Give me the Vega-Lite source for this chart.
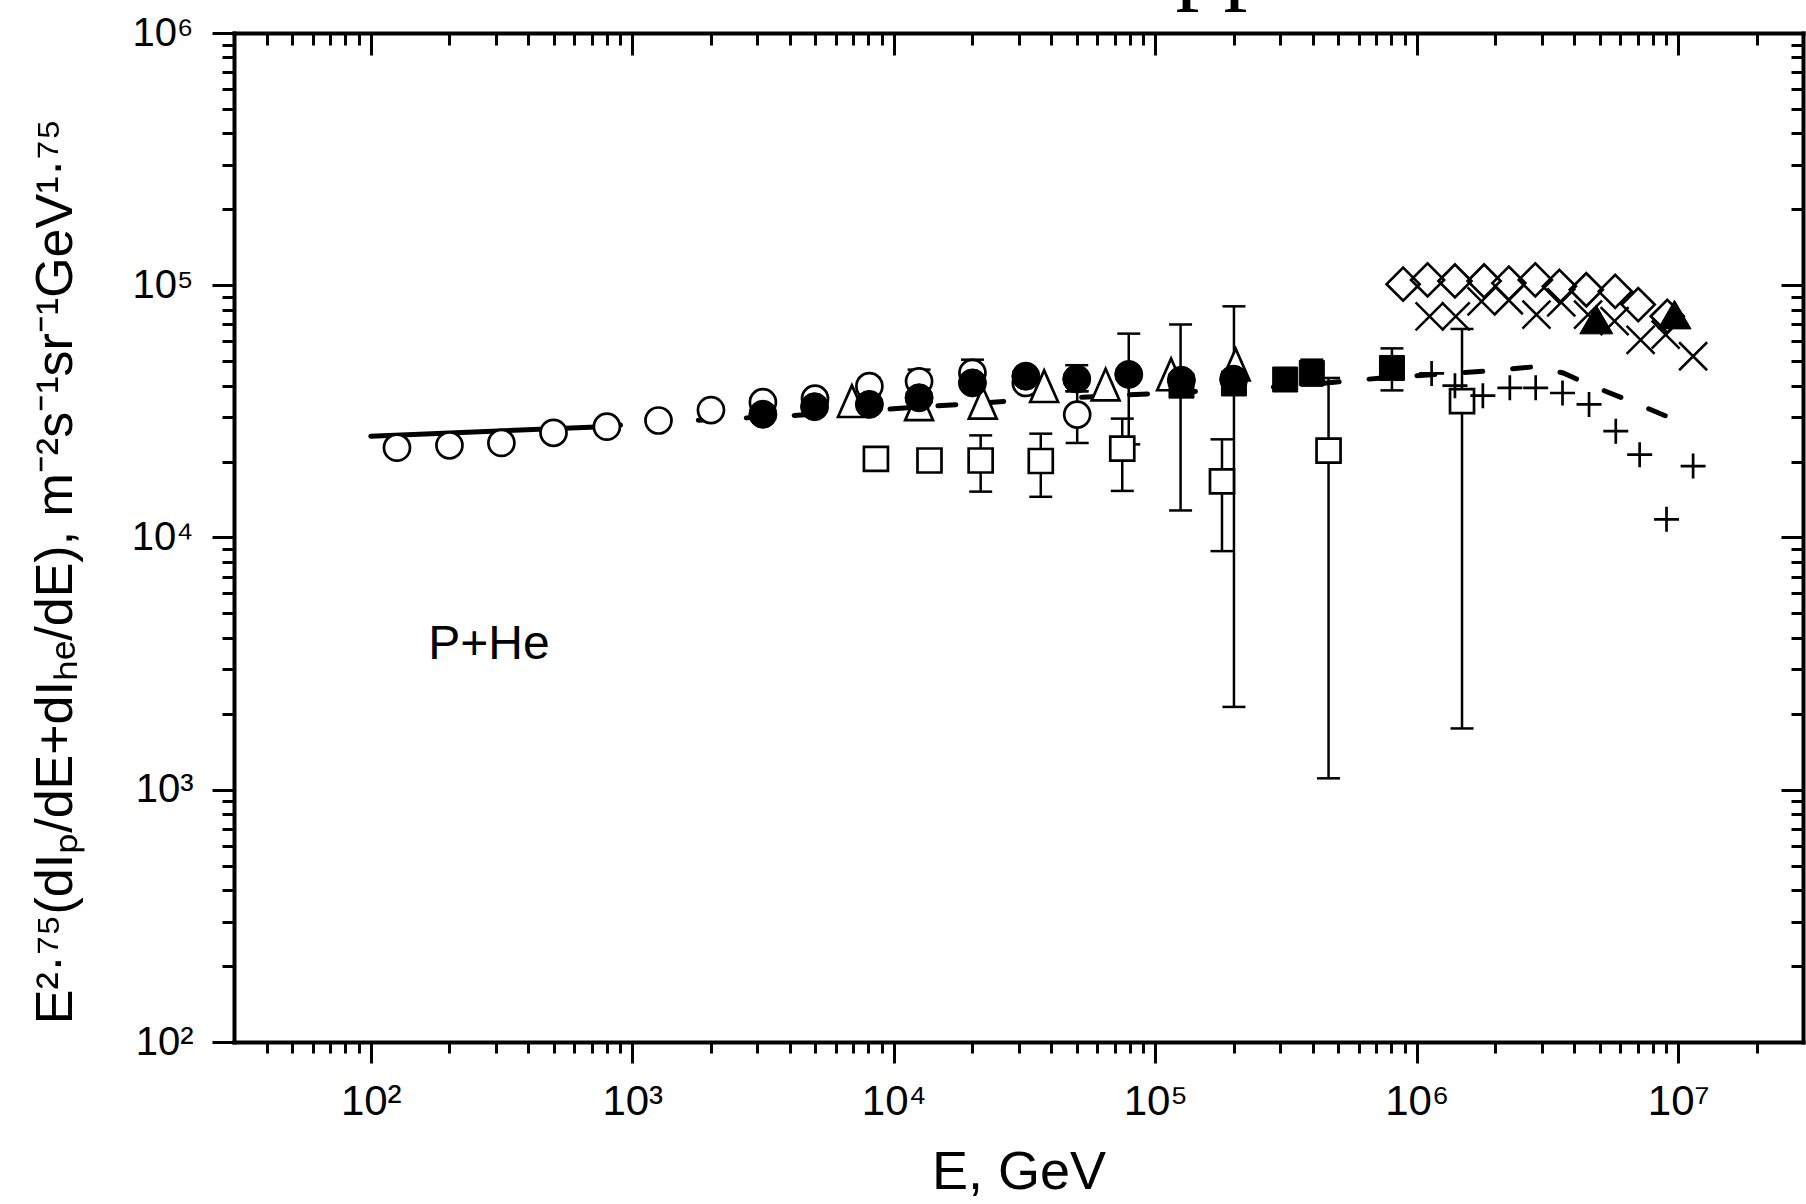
{
  "$schema": "https://vega.github.io/schema/vega-lite/v6.json",
  "width": 1569,
  "height": 1009,
  "autosize": {"type": "none"},
  "padding": {"left": 234, "top": 33, "right": 3, "bottom": 162},
  "background": "white",
  "config": {
    "view": {"stroke": null},
    "axis": {
      "grid": false,
      "domainColor": "black",
      "domainWidth": 4,
      "domainCap": "square",
      "tickColor": "black",
      "tickWidth": 3,
      "labelColor": "black",
      "titleColor": "black",
      "labelFont": "Liberation Sans",
      "titleFont": "Liberation Sans",
      "titleFontWeight": "normal"
    }
  },
  "datasets": {
    "solid": [{"E": 100, "V": 25200}, {"E": 770, "V": 27500}],
    "dashed": [
      {"E": 770, "V": 27500}, {"E": 1186, "V": 28600}, {"E": 3820, "V": 30300},
      {"E": 29700, "V": 34900}, {"E": 172600, "V": 38300}, {"E": 348000, "V": 40000},
      {"E": 735000, "V": 42900}, {"E": 1810000, "V": 45600}, {"E": 2810000, "V": 47500},
      {"E": 3630000, "V": 44900}, {"E": 4450000, "V": 40800}, {"E": 7030000, "V": 33700},
      {"E": 10000000, "V": 28900}
    ],
    "err": [
      {"E": 8070, "lo": 36700, "hi": 42900},
      {"E": 12500, "lo": 37400, "hi": 46300},
      {"E": 20000, "lo": 39800, "hi": 50700},
      {"E": 50300, "lo": 23700, "hi": 38000},
      {"E": 50100, "lo": 38000, "hi": 48200},
      {"E": 79200, "lo": 23400, "hi": 64300},
      {"E": 21500, "lo": 15200, "hi": 25400},
      {"E": 36500, "lo": 14500, "hi": 25800},
      {"E": 74800, "lo": 15300, "hi": 29600},
      {"E": 180000, "lo": 8830, "hi": 24500},
      {"E": 460000, "lo": 1110, "hi": 42900},
      {"E": 1490000, "lo": 1750, "hi": 67100},
      {"E": 125000, "lo": 12800, "hi": 69900},
      {"E": 200000, "lo": 2130, "hi": 82500},
      {"E": 397000, "lo": 40000, "hi": 50700},
      {"E": 804000, "lo": 38300, "hi": 56200}
    ],
    "openCircle": [
      {"E": 126, "V": 22700}, {"E": 200, "V": 23200}, {"E": 316, "V": 23700},
      {"E": 500, "V": 26000}, {"E": 800, "V": 27500}, {"E": 1260, "V": 29100},
      {"E": 2000, "V": 32000}, {"E": 3160, "V": 34400}, {"E": 5000, "V": 35500},
      {"E": 8070, "V": 39800}, {"E": 12500, "V": 41600}, {"E": 20000, "V": 44900},
      {"E": 32000, "V": 41000}, {"E": 50300, "V": 30700}
    ],
    "filledCircle": [
      {"E": 3160, "V": 30800}, {"E": 4980, "V": 33000}, {"E": 8070, "V": 33700},
      {"E": 12500, "V": 35800}, {"E": 20000, "V": 41000}, {"E": 32000, "V": 43600},
      {"E": 50100, "V": 42500}, {"E": 79200, "V": 44300}, {"E": 125900, "V": 42000},
      {"E": 199500, "V": 42400}
    ],
    "openTriangle": [
      {"E": 6920, "V": 34700}, {"E": 12500, "V": 33700}, {"E": 21900, "V": 34200},
      {"E": 37600, "V": 39800}, {"E": 64600, "V": 40400}, {"E": 115000, "V": 44300},
      {"E": 203000, "V": 48500}
    ],
    "filledSquare": [
      {"E": 126000, "V": 40000}, {"E": 200000, "V": 40800}, {"E": 314000, "V": 42300},
      {"E": 397000, "V": 44900}, {"E": 804000, "V": 47000}
    ],
    "openSquare": [
      {"E": 8550, "V": 20500}, {"E": 13700, "V": 20200}, {"E": 21500, "V": 20200},
      {"E": 36500, "V": 20100}, {"E": 74800, "V": 22500}, {"E": 180000, "V": 16700},
      {"E": 460000, "V": 22100}, {"E": 1490000, "V": 34700}
    ],
    "diamond": [
      {"E": 887000, "V": 101000}, {"E": 1100000, "V": 105000}, {"E": 1400000, "V": 104000},
      {"E": 1810000, "V": 104000}, {"E": 2250000, "V": 102000}, {"E": 2840000, "V": 105000},
      {"E": 3510000, "V": 99000}, {"E": 4450000, "V": 96000}, {"E": 5740000, "V": 94600},
      {"E": 7030000, "V": 83800}, {"E": 9080000, "V": 75300}
    ],
    "xcross": [
      {"E": 1120000, "V": 75300}, {"E": 1410000, "V": 75300}, {"E": 1770000, "V": 86400},
      {"E": 2250000, "V": 87200}, {"E": 2870000, "V": 76500}, {"E": 3570000, "V": 85600},
      {"E": 4520000, "V": 76500}, {"E": 5710000, "V": 72000}, {"E": 7180000, "V": 60700},
      {"E": 8950000, "V": 63700}, {"E": 11400000, "V": 52300}
    ],
    "plus": [
      {"E": 1140000, "V": 44700}, {"E": 1400000, "V": 40000}, {"E": 1790000, "V": 36500},
      {"E": 2270000, "V": 39200}, {"E": 2850000, "V": 39200}, {"E": 3610000, "V": 37400},
      {"E": 4560000, "V": 33700}, {"E": 5770000, "V": 26400}, {"E": 7120000, "V": 21300},
      {"E": 9020000, "V": 11800}, {"E": 11400000, "V": 19200}
    ],
    "filledTriangle": [{"E": 4860000, "V": 73100}, {"E": 9680000, "V": 76500}],
    "label1": [{"E": 166, "V": 3290, "t": "P+He"}],
    "label2": [{"E": 119600, "V": 1451000, "t": "pp"}]
  },
  "layer": [
    {
      "data": {"name": "solid"},
      "mark": {"type": "line", "color": "black", "strokeWidth": 5, "strokeCap": "round"},
      "encoding": {
        "x": {
          "field": "E", "type": "quantitative",
          "scale": {"type": "log", "domain": [30, 30000000], "nice": false},
          "axis": {
            "orient": "bottom",
            "values": [100, 1000, 10000, 100000, 1000000, 10000000],
            "tickSize": 21,
            "labelExpr": "datum.value < 500 ? '10²' : datum.value < 5000 ? '10³' : datum.value < 50000 ? '10⁴' : datum.value < 500000 ? '10⁵' : datum.value < 5000000 ? '10⁶' : '10⁷'",
            "labelFontSize": 42,
            "labelBaseline": "alphabetic",
            "labelPadding": 51,
            "title": "E, GeV",
            "titleFontSize": 54,
            "titleY": 146,
            "titleBaseline": "alphabetic"
          }
        },
        "y": {
          "field": "V", "type": "quantitative",
          "scale": {"type": "log", "domain": [100, 1000000], "nice": false},
          "axis": {
            "orient": "left",
            "values": [100, 1000, 10000, 100000, 1000000],
            "tickSize": 22,
            "labelExpr": "datum.value < 500 ? '10²' : datum.value < 5000 ? '10³' : datum.value < 50000 ? '10⁴' : datum.value < 500000 ? '10⁵' : '10⁶'",
            "labelFontSize": 40,
            "labelPadding": 19,
            "title": "E²·⁷⁵(dIₚ/dE+dIₕₑ/dE), m⁻²s⁻¹sr⁻¹GeV¹·⁷⁵",
            "titleFontSize": 52,
            "titleX": -163,
            "titleY": 538,
            "titleAngle": 270,
            "titleBaseline": "alphabetic",
            "titleAlign": "center"
          }
        }
      }
    },
    {
      "data": {"name": "dashed"},
      "mark": {"type": "line", "color": "black", "strokeWidth": 5, "strokeCap": "round", "strokeDash": [18, 30]},
      "encoding": {
        "x": {
          "field": "E", "type": "quantitative",
          "scale": {"type": "log", "domain": [30, 30000000], "nice": false},
          "axis": {
            "orient": "bottom",
            "values": [40, 50, 60, 70, 80, 90, 200, 300, 400, 500, 600, 700, 800, 900, 2000, 3000, 4000, 5000, 6000, 7000, 8000, 9000, 20000, 30000, 40000, 50000, 60000, 70000, 80000, 90000, 200000, 300000, 400000, 500000, 600000, 700000, 800000, 900000, 2000000, 3000000, 4000000, 5000000, 6000000, 7000000, 8000000, 9000000, 20000000],
            "tickSize": 11,
            "labels": false,
            "domain": false,
            "title": null
          }
        },
        "y": {
          "field": "V", "type": "quantitative",
          "scale": {"type": "log", "domain": [100, 1000000], "nice": false},
          "axis": {
            "orient": "left",
            "values": [200, 300, 400, 500, 600, 700, 800, 900, 2000, 3000, 4000, 5000, 6000, 7000, 8000, 9000, 20000, 30000, 40000, 50000, 60000, 70000, 80000, 90000, 200000, 300000, 400000, 500000, 600000, 700000, 800000, 900000],
            "tickSize": 12,
            "labels": false,
            "domain": false,
            "title": null
          }
        }
      }
    },
    {
      "data": {"name": "err"},
      "mark": {"type": "rule", "color": "black", "strokeWidth": 2.5},
      "encoding": {
        "x": {
          "field": "E", "type": "quantitative",
          "scale": {"type": "log", "domain": [30, 30000000], "nice": false},
          "axis": {
            "orient": "top",
            "values": [100, 1000, 10000, 100000, 1000000, 10000000],
            "tickSize": -22,
            "labels": false,
            "title": null
          }
        },
        "y": {
          "field": "lo", "type": "quantitative",
          "scale": {"type": "log", "domain": [100, 1000000], "nice": false},
          "axis": {
            "orient": "right",
            "values": [100, 1000, 10000, 100000, 1000000],
            "tickSize": -22,
            "labels": false,
            "title": null
          }
        },
        "y2": {"field": "hi"}
      }
    },
    {
      "data": {"name": "err"},
      "mark": {"type": "point", "shape": "M-1,0L1,0", "size": 529, "filled": false, "stroke": "black", "strokeWidth": 2.5, "opacity": 1},
      "encoding": {
        "x": {
          "field": "E", "type": "quantitative",
          "scale": {"type": "log", "domain": [30, 30000000], "nice": false},
          "axis": {
            "orient": "top",
            "values": [40, 50, 60, 70, 80, 90, 200, 300, 400, 500, 600, 700, 800, 900, 2000, 3000, 4000, 5000, 6000, 7000, 8000, 9000, 20000, 30000, 40000, 50000, 60000, 70000, 80000, 90000, 200000, 300000, 400000, 500000, 600000, 700000, 800000, 900000, 2000000, 3000000, 4000000, 5000000, 6000000, 7000000, 8000000, 9000000, 20000000],
            "tickSize": -12,
            "labels": false,
            "domain": false,
            "title": null
          }
        },
        "y": {
          "field": "lo", "type": "quantitative",
          "scale": {"type": "log", "domain": [100, 1000000], "nice": false},
          "axis": {
            "orient": "right",
            "values": [200, 300, 400, 500, 600, 700, 800, 900, 2000, 3000, 4000, 5000, 6000, 7000, 8000, 9000, 20000, 30000, 40000, 50000, 60000, 70000, 80000, 90000, 200000, 300000, 400000, 500000, 600000, 700000, 800000, 900000],
            "tickSize": -12,
            "labels": false,
            "domain": false,
            "title": null
          }
        }
      }
    },
    {
      "data": {"name": "err"},
      "mark": {"type": "point", "shape": "M-1,0L1,0", "size": 529, "filled": false, "stroke": "black", "strokeWidth": 2.5, "opacity": 1},
      "encoding": {
        "x": {"field": "E", "type": "quantitative", "scale": {"type": "log", "domain": [30, 30000000], "nice": false}, "axis": null},
        "y": {"field": "hi", "type": "quantitative", "scale": {"type": "log", "domain": [100, 1000000], "nice": false}, "axis": null}
      }
    },
    {
      "data": {"name": "openCircle"},
      "mark": {"type": "point", "shape": "circle", "size": 676, "filled": true, "fill": "white", "stroke": "black", "strokeWidth": 2.7, "opacity": 1},
      "encoding": {
        "x": {"field": "E", "type": "quantitative", "scale": {"type": "log", "domain": [30, 30000000], "nice": false}, "axis": null},
        "y": {"field": "V", "type": "quantitative", "scale": {"type": "log", "domain": [100, 1000000], "nice": false}, "axis": null}
      }
    },
    {
      "data": {"name": "openSquare"},
      "mark": {"type": "point", "shape": "square", "size": 576, "filled": true, "fill": "white", "stroke": "black", "strokeWidth": 2.7, "opacity": 1},
      "encoding": {
        "x": {"field": "E", "type": "quantitative", "scale": {"type": "log", "domain": [30, 30000000], "nice": false}, "axis": null},
        "y": {"field": "V", "type": "quantitative", "scale": {"type": "log", "domain": [100, 1000000], "nice": false}, "axis": null}
      }
    },
    {
      "data": {"name": "openTriangle"},
      "mark": {"type": "point", "shape": "M0,-1L-0.88,1L0.88,1Z", "size": 1000, "filled": true, "fill": "white", "stroke": "black", "strokeWidth": 2.7, "opacity": 1},
      "encoding": {
        "x": {"field": "E", "type": "quantitative", "scale": {"type": "log", "domain": [30, 30000000], "nice": false}, "axis": null},
        "y": {"field": "V", "type": "quantitative", "scale": {"type": "log", "domain": [100, 1000000], "nice": false}, "axis": null}
      }
    },
    {
      "data": {"name": "filledSquare"},
      "mark": {"type": "point", "shape": "square", "size": 625, "filled": true, "fill": "black", "stroke": "black", "strokeWidth": 1, "opacity": 1},
      "encoding": {
        "x": {"field": "E", "type": "quantitative", "scale": {"type": "log", "domain": [30, 30000000], "nice": false}, "axis": null},
        "y": {"field": "V", "type": "quantitative", "scale": {"type": "log", "domain": [100, 1000000], "nice": false}, "axis": null}
      }
    },
    {
      "data": {"name": "filledCircle"},
      "mark": {"type": "point", "shape": "circle", "size": 784, "filled": true, "fill": "black", "stroke": "black", "strokeWidth": 1, "opacity": 1},
      "encoding": {
        "x": {"field": "E", "type": "quantitative", "scale": {"type": "log", "domain": [30, 30000000], "nice": false}, "axis": null},
        "y": {"field": "V", "type": "quantitative", "scale": {"type": "log", "domain": [100, 1000000], "nice": false}, "axis": null}
      }
    },
    {
      "data": {"name": "diamond"},
      "mark": {"type": "point", "shape": "diamond", "size": 1089, "filled": false, "stroke": "black", "strokeWidth": 2.7, "opacity": 1},
      "encoding": {
        "x": {"field": "E", "type": "quantitative", "scale": {"type": "log", "domain": [30, 30000000], "nice": false}, "axis": null},
        "y": {"field": "V", "type": "quantitative", "scale": {"type": "log", "domain": [100, 1000000], "nice": false}, "axis": null}
      }
    },
    {
      "data": {"name": "xcross"},
      "mark": {"type": "point", "shape": "M-1,-1L1,1M-1,1L1,-1", "size": 784, "filled": false, "stroke": "black", "strokeWidth": 2.5, "opacity": 1},
      "encoding": {
        "x": {"field": "E", "type": "quantitative", "scale": {"type": "log", "domain": [30, 30000000], "nice": false}, "axis": null},
        "y": {"field": "V", "type": "quantitative", "scale": {"type": "log", "domain": [100, 1000000], "nice": false}, "axis": null}
      }
    },
    {
      "data": {"name": "plus"},
      "mark": {"type": "point", "shape": "M-1,0L1,0M0,-1L0,1", "size": 625, "filled": false, "stroke": "black", "strokeWidth": 2.7, "opacity": 1},
      "encoding": {
        "x": {"field": "E", "type": "quantitative", "scale": {"type": "log", "domain": [30, 30000000], "nice": false}, "axis": null},
        "y": {"field": "V", "type": "quantitative", "scale": {"type": "log", "domain": [100, 1000000], "nice": false}, "axis": null}
      }
    },
    {
      "data": {"name": "filledTriangle"},
      "mark": {"type": "point", "shape": "triangle-up", "size": 1089, "filled": true, "fill": "black", "stroke": "black", "strokeWidth": 1, "opacity": 1},
      "encoding": {
        "x": {"field": "E", "type": "quantitative", "scale": {"type": "log", "domain": [30, 30000000], "nice": false}, "axis": null},
        "y": {"field": "V", "type": "quantitative", "scale": {"type": "log", "domain": [100, 1000000], "nice": false}, "axis": null}
      }
    },
    {
      "data": {"name": "label1"},
      "mark": {"type": "text", "font": "Liberation Sans", "fontSize": 48, "align": "left", "baseline": "alphabetic", "color": "black"},
      "encoding": {
        "x": {"field": "E", "type": "quantitative", "scale": {"type": "log", "domain": [30, 30000000], "nice": false}, "axis": null},
        "y": {"field": "V", "type": "quantitative", "scale": {"type": "log", "domain": [100, 1000000], "nice": false}, "axis": null},
        "text": {"field": "t"}
      }
    },
    {
      "data": {"name": "label2"},
      "mark": {"type": "text", "font": "Liberation Serif", "fontSize": 96, "align": "left", "baseline": "alphabetic", "color": "black"},
      "encoding": {
        "x": {"field": "E", "type": "quantitative", "scale": {"type": "log", "domain": [30, 30000000], "nice": false}, "axis": null},
        "y": {"field": "V", "type": "quantitative", "scale": {"type": "log", "domain": [100, 1000000], "nice": false}, "axis": null},
        "text": {"field": "t"}
      }
    }
  ],
  "resolve": {"axis": {"x": "independent", "y": "independent"}}
}
